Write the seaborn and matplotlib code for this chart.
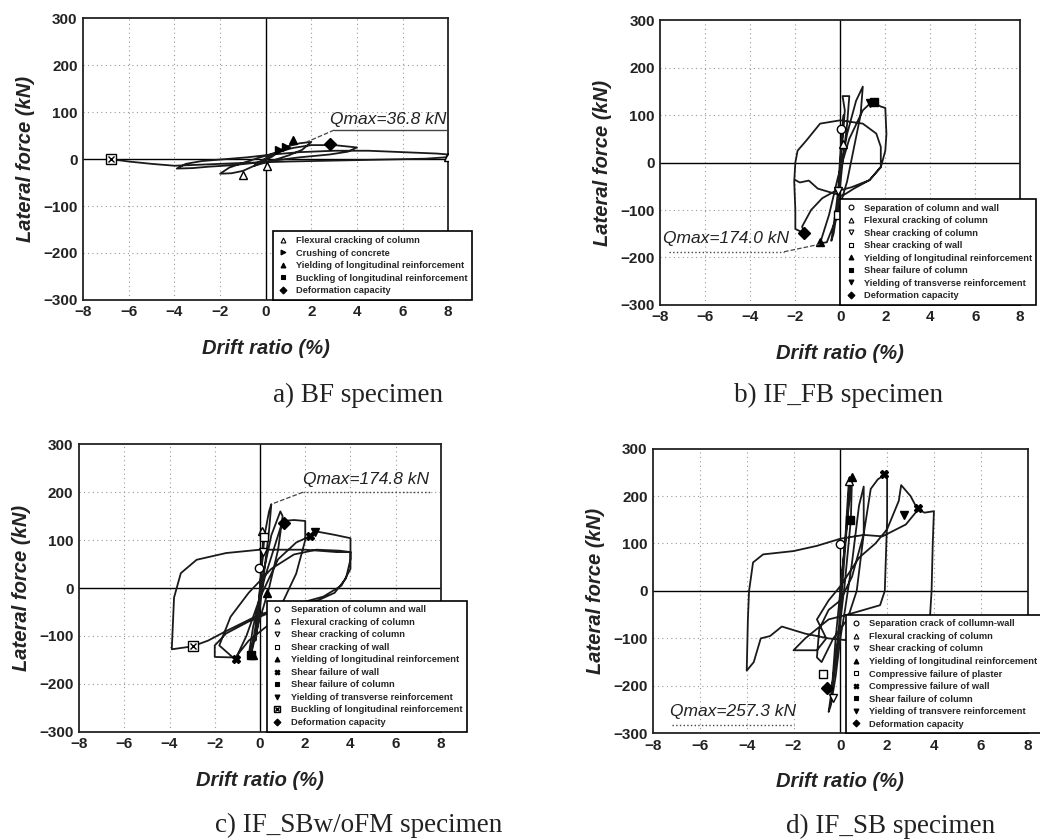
import numpy as np
import pandas as pd
import matplotlib
matplotlib.use('Agg')
import matplotlib.pyplot as plt
import seaborn as sns
from matplotlib.lines import Line2D

sns.set_style('white')
plt.rcParams['font.family'] = ['Liberation Sans', 'DejaVu Sans']

# ---------------- datos (drift %, fuerza kN) ----------------
# a) BF
a_drift = [0, 0.25, 0.5, 0.3, 0, -0.25, -0.5, -0.3, 0, 0.6, 1.0, 1.5, 2.0, 1.6, 1.0, 0.3,
           -0.5, -1.0, -1.5, -2.0, -1.6, -1.0, -0.3, 0.5, 1.2, 2.0, 3.0, 4.0, 3.6, 2.8, 1.5,
           0.5, -0.5, -1.5, -2.5, -3.2, -3.9, -3.5, -2.8, -1.8, -0.8, 0.3, 1.5, 3.0, 4.5,
           6.0, 7.5, 8.0, 7.9, 7.0, 5.0, 3.0, 1.0, -1.0, -3.0, -4.0, -5.0, -6.0, -6.8]
a_force = [0, 8, 14, 6, -2, -8, -14, -6, 2, 18, 28, 34, 36.8, 20, 8, -3,
           -14, -25, -30, -31, -18, -8, 3, 15, 24, 30, 30, 25, 16, 10, 4,
           -2, -8, -13, -16, -19, -20, -10, -4, 0, 4, 10, 15, 18, 18,
           15, 12, 10, 4, 1, -1, -3, -5, -8, -12, -14, -10, -5, 0]

# b) IF_FB
b_drift = [0, 0.1, 0.15, 0.05, -0.05, -0.1, -0.15, -0.05, 0.05, 0.2, 0.1, 0.4, 0.3, 0.1,
           -0.1, -0.3, -0.4, -0.2, 0, 0.3, 0.7, 1.0, 0.9, 0.6, 0.3, -0.2, -0.6, -0.9, -0.5,
           -0.1, 0.4, 1.0, 1.4, 1.8, 2.0, 2.05, 2.0, 1.8, 1.3, 0.5, -0.3, -0.8, -1.3, -1.7,
           -1.6, -2.0, -2.0, -2.05, -2.0, -1.9, -1.5, -0.9, 0.0, 1.0, 1.6, 1.8, 1.8, 1.3,
           0.6, 0.1, -0.5, -1.0, -1.4, -1.8, -2.0]
b_force = [0, 60, 100, 50, -20, -80, -110, -50, 20, 110, 140, 140, 80, 0,
           -90, -150, -165, -100, -20, 60, 130, 160, 100, 30, -40, -120, -168, -170, -110,
           -30, 50, 110, 128, 118, 115, 60, 25, -10, -37, -52, -62, -75, -100, -135,
           -149, -140, -100, -40, 0, 25, 47, 82, 89, 82, 61, 33, -9, -37,
           -55, -70, -62, -55, -38, -42, -37]

# c) IF_SBw/oFM
c_drift = [0, 0.05, 0.1, 0.15, 0.1, 0, -0.05, -0.1, -0.2, -0.1, 0, 0.2, 0.4, 0.5, 0.4,
           0.2, 0, -0.2, -0.4, -0.2, 0.1, 0.5, 0.9, 1.0, 0.8, 0.4, -0.1, -0.5, -0.3, 0.2,
           0.8, 1.0, 1.5, 2.0, 2.0, 1.6, 1.0, 0.3, -0.5, -1.0, -1.1, -0.6, 0, 0.8, 1.6,
           2.2, 2.5, 3.3, 4.0, 4.0, 3.8, 3.3, 2.6, 1.5, 0.5, -0.5, -1.5, -2.0, -2.0, -1.2,
           -1.8, -1.3, -0.5, 0.5, 1.5, 2.5, 3.5, 4.0, 4.0, 3.6, 2.8, 1.5, 0, -1.5, -2.3,
           -3.0, -3.9, -3.8, -3.5, -2.8, -1.5, 0, 2.0, 3.4, 4.0]
c_force = [0, 40, 75, 105, 60, 0, -40, -80, -110, -50, 0, 110, 160, 175, 120,
           40, -40, -100, -140, -80, 20, 110, 160, 150, 80, 0, -80, -140, -80, 20,
           110, 140, 142, 140, 100, 30, -30, -80, -110, -140, -150, -100, -20, 60, 95,
           108, 118, 111, 104, 60, 20, -10, -25, -40, -50, -70, -95, -120, -144, -145,
           -120, -60, -10, 40, 70, 80, 78, 75, 40, 5, -18, -35, -55, -90, -110,
           -122, -128, -20, 31, 59, 73, 80, 80, 75, 75]

# d) IF_SB
d_drift = [0, 0.2, 0.35, 0.4, 0.3, 0.1, -0.1, -0.3, -0.35, -0.2, 0, 0.3, 0.5, 0.45, 0.2,
           -0.2, -0.5, -0.4, -0.2, 0, 0.2, 0.5, 0.8, 1.0, 1.0, 0.7, 0.3, -0.3, -0.8, -1.0,
           -0.9, -0.5, 0, 0.5, 1.0, 1.3, 1.6, 1.9, 2.0, 2.0, 1.9, 1.7, 1.0, 0.3, -0.5,
           -1.0, -1.5, -2.0, -1.0, -0.6, -1.0, -0.5, 0, 0.8, 1.5, 2.0, 2.5, 2.6, 3.0, 3.3,
           3.6, 4.0, 3.95, 3.9, 3.8, 3.2, 2.0, 0.5, -0.5, -1.5, -2.5, -3.0, -3.4, -3.7,
           -4.0, -3.95, -3.9, -3.73, -3.3, -2.0, -1.0, 0, 1.0, 1.8, 2.8, 3.3]
d_force = [0, 100, 220, 240, 150, 20, -100, -180, -200, -100, 0, 150, 240, 150, 20,
           -150, -255, -240, -180, -100, -40, 60, 180, 220, 120, 0, -60, -100, -150, -140,
           -80, -40, -20, 30, 120, 215, 235, 245, 240, 150, 0, -30, -40, -50, -60,
           -80, -100, -125, -125, -100, -60, -20, 10, 70, 100, 130, 190, 223, 200, 172,
           165, 168, 100, 0, -80, -95, -100, -105, -100, -90, -75, -95, -100, -150,
           -168, -60, 0, 60, 77, 84, 95, 110, 118, 115, 140, 170]

# eventos: (drift, fuerza)
a_events = {
    'Flexural cracking of column': ([-1.0, 0.05, 8.0], [-34, -15, 5]),
    'Crushing of concrete': ([0.6, 0.9], [20, 26]),
    'Yielding of longitudinal reinforcement': ([1.2], [40]),
    'Buckling of longitudinal reinforcement': ([-6.8], [0]),
    'Deformation capacity': ([2.8], [32]),
}
b_events = {
    'Separation of column and wall': ([0.05], [70]),
    'Flexural cracking of column': ([0.1], [40]),
    'Shear cracking of column': ([-0.1], [-60]),
    'Shear cracking of wall': ([-0.1], [-111]),
    'Yielding of longitudinal reinforcement': ([-0.9], [-168]),
    'Shear failure of column': ([1.5], [128]),
    'Yielding of transverse reinforcement': ([1.3], [125]),
    'Deformation capacity': ([-1.6], [-149]),
}
c_events = {
    'Separation of column and wall': ([-0.03], [41]),
    'Flexural cracking of column': ([0.1], [120]),
    'Shear cracking of column': ([0.12], [76]),
    'Shear cracking of wall': ([0.19], [107]),
    'Yielding of longitudinal reinforcement': ([-0.3, 0.3], [-140, -10]),
    'Shear failure of wall': ([2.2, -1.05], [108, -148]),
    'Shear failure of column': ([-0.4], [-140]),
    'Yielding of transverse reinforcement': ([2.45], [117]),
    'Buckling of longitudinal reinforcement': ([-2.98], [-121]),
    'Deformation capacity': ([1.05], [136]),
}
d_events = {
    'Separation crack of collumn-wall': ([0.0], [98]),
    'Flexural cracking of column': ([0.35], [232]),
    'Shear cracking of column': ([-0.3], [-225]),
    'Yielding of longitudinal reinforcement': ([0.5], [240]),
    'Compressive failure of plaster': ([-0.72], [-175]),
    'Compressive failure of wall': ([1.86, 3.3], [246, 175]),
    'Shear failure of column': ([0.4], [150]),
    'Yielding of transvere reinforcement': ([2.72], [161]),
    'Deformation capacity': ([-0.57], [-204]),
}

# estilos de marcador por evento
estilos = {
    'Separation of column and wall': dict(marker='o', mfc='white'),
    'Separation crack of collumn-wall': dict(marker='o', mfc='white'),
    'Flexural cracking of column': dict(marker='^', mfc='white'),
    'Crushing of concrete': dict(marker='>', mfc='black'),
    'Shear cracking of column': dict(marker='v', mfc='white'),
    'Shear cracking of wall': dict(marker='s', mfc='white'),
    'Compressive failure of plaster': dict(marker='s', mfc='white'),
    'Yielding of longitudinal reinforcement': dict(marker='^', mfc='black'),
    'Shear failure of column': dict(marker='s', mfc='black'),
    'Shear failure of wall': dict(marker='X', mfc='black'),
    'Compressive failure of wall': dict(marker='X', mfc='black'),
    'Yielding of transverse reinforcement': dict(marker='v', mfc='black'),
    'Yielding of transvere reinforcement': dict(marker='v', mfc='black'),
    'Buckling of longitudinal reinforcement': dict(marker='s', mfc='black'),
    'Deformation capacity': dict(marker='D', mfc='black'),
}

paneles = [
    dict(drift=a_drift, force=a_force, events=a_events, caption='a) BF specimen',
         rect=[0.080, 0.643, 0.351, 0.335], leg_x=0.52, cap=(0.344, 0.521),
         qtext='Qmax=36.8 kN', qpos=(2.8, 85), uline=([3.0, 7.9], [62, 62]), uls='-',
         leader=([3.0, 1.8], [62, 36.8])),
    dict(drift=b_drift, force=b_force, events=b_events, caption='b) IF_FB specimen',
         rect=[0.635, 0.637, 0.346, 0.339], leg_x=0.50, cap=(0.806, 0.521),
         qtext='Qmax=174.0 kN', qpos=(-7.9, -160), uline=([-7.6, -2.5], [-188, -188]), uls=':',
         leader=([-2.5, -0.9], [-188, -172])),
    dict(drift=c_drift, force=c_force, events=c_events, caption='c) IF_SBw/oFM specimen',
         rect=[0.076, 0.129, 0.348, 0.342], leg_x=0.52, cap=(0.345, 0.010),
         qtext='Qmax=174.8 kN', qpos=(1.9, 227), uline=([1.9, 7.6], [200, 200]), uls=':',
         leader=([1.9, 0.5], [200, 175])),
    dict(drift=d_drift, force=d_force, events=d_events, caption='d) IF_SB specimen',
         rect=[0.628, 0.127, 0.360, 0.339], leg_x=0.515, cap=(0.856, 0.008),
         qtext='Qmax=257.3 kN', qpos=(-7.3, -253), uline=([-7.2, -2.0], [-283, -283]), uls=':',
         leader=None),
]

fig = plt.figure(figsize=(10.4, 8.4), dpi=100)

for p in paneles:
    ax = fig.add_axes(p['rect'])
    df = pd.DataFrame({'drift': p['drift'], 'force': p['force']})
    sns.lineplot(data=df, x='drift', y='force', sort=False, estimator=None,
                 color='#1a1a1a', lw=1.3, ax=ax, zorder=3)

    for nombre, (xs, ys) in p['events'].items():
        st = estilos[nombre]
        ax.plot(xs, ys, ls='none', marker=st['marker'], mfc=st['mfc'], mec='black',
                ms=6, mew=1.0, zorder=4)
        if nombre == 'Buckling of longitudinal reinforcement':
            ax.plot(xs, ys, ls='none', marker='s', mfc='white', mec='black', ms=7, zorder=5)
            ax.plot(xs, ys, ls='none', marker='x', color='black', ms=5, zorder=6)

    ax.set_xlim(-8, 8)
    ax.set_ylim(-300, 300)
    ax.set_xticks(np.arange(-8, 9, 2))
    ax.set_yticks(np.arange(-300, 301, 100))
    for g in [-6, -4, -2, 2, 4, 6]:
        ax.axvline(g, color='#999999', ls=(0, (1, 3)), lw=0.8, zorder=1)
    for g in [-200, -100, 100, 200]:
        ax.axhline(g, color='#999999', ls=(0, (1, 3)), lw=0.8, zorder=1)
    ax.axvline(0, color='black', lw=1.0, zorder=2)
    ax.axhline(0, color='black', lw=1.0, zorder=2)

    for s in ax.spines.values():
        s.set_color('#222222')
        s.set_linewidth(1.3)
    ax.tick_params(length=0, pad=4, labelsize=11)
    for t in ax.get_xticklabels() + ax.get_yticklabels():
        t.set_fontweight('bold')
        t.set_color('#222222')
    ax.set_xlabel('Drift ratio (%)', fontsize=14.5, fontweight='bold', style='italic',
                  labelpad=14, color='#222222')
    ax.set_ylabel('Lateral force (kN)', fontsize=14.5, fontweight='bold', style='italic',
                  labelpad=6, color='#222222')

    # anotacion Qmax
    ax.text(p['qpos'][0], p['qpos'][1], p['qtext'], fontsize=12.5, style='italic',
            ha='left', va='center', color='#222222', zorder=6)
    ax.plot(p['uline'][0], p['uline'][1], color='#444444', ls=p['uls'], lw=1.0, zorder=6)
    if p['leader'] is not None:
        ax.plot(p['leader'][0], p['leader'][1], color='#444444', ls='--', lw=0.9, zorder=6)

    # leyenda
    handles = []
    for nombre in p['events']:
        st = estilos[nombre]
        if nombre == 'Buckling of longitudinal reinforcement' and len(p['events']) > 5:
            h = (Line2D([], [], ls='none', marker='s', mfc='white', mec='black', ms=4),
                 Line2D([], [], ls='none', marker='x', color='black', ms=3))
        else:
            h = Line2D([], [], ls='none', marker=st['marker'], mfc=st['mfc'], mec='black',
                       ms=3.5, mew=0.8)
        handles.append(h)
    leg = ax.legend(handles, list(p['events'].keys()), loc='lower left',
                    bbox_to_anchor=(p['leg_x'], 0.0), frameon=True, fancybox=False,
                    edgecolor='black', framealpha=1, borderpad=0.5, labelspacing=0.38,
                    handletextpad=0.8, handlelength=1.2, borderaxespad=0,
                    prop={'size': 6.7, 'weight': 'bold'})
    leg.get_frame().set_linewidth(1.2)
    leg.set_zorder(10)

    fig.text(p['cap'][0], p['cap'][1], p['caption'], fontsize=19.5,
             family=['Liberation Serif', 'DejaVu Serif'], ha='center', va='baseline',
             color='#222222')

fig.savefig('out.png', dpi=100)
